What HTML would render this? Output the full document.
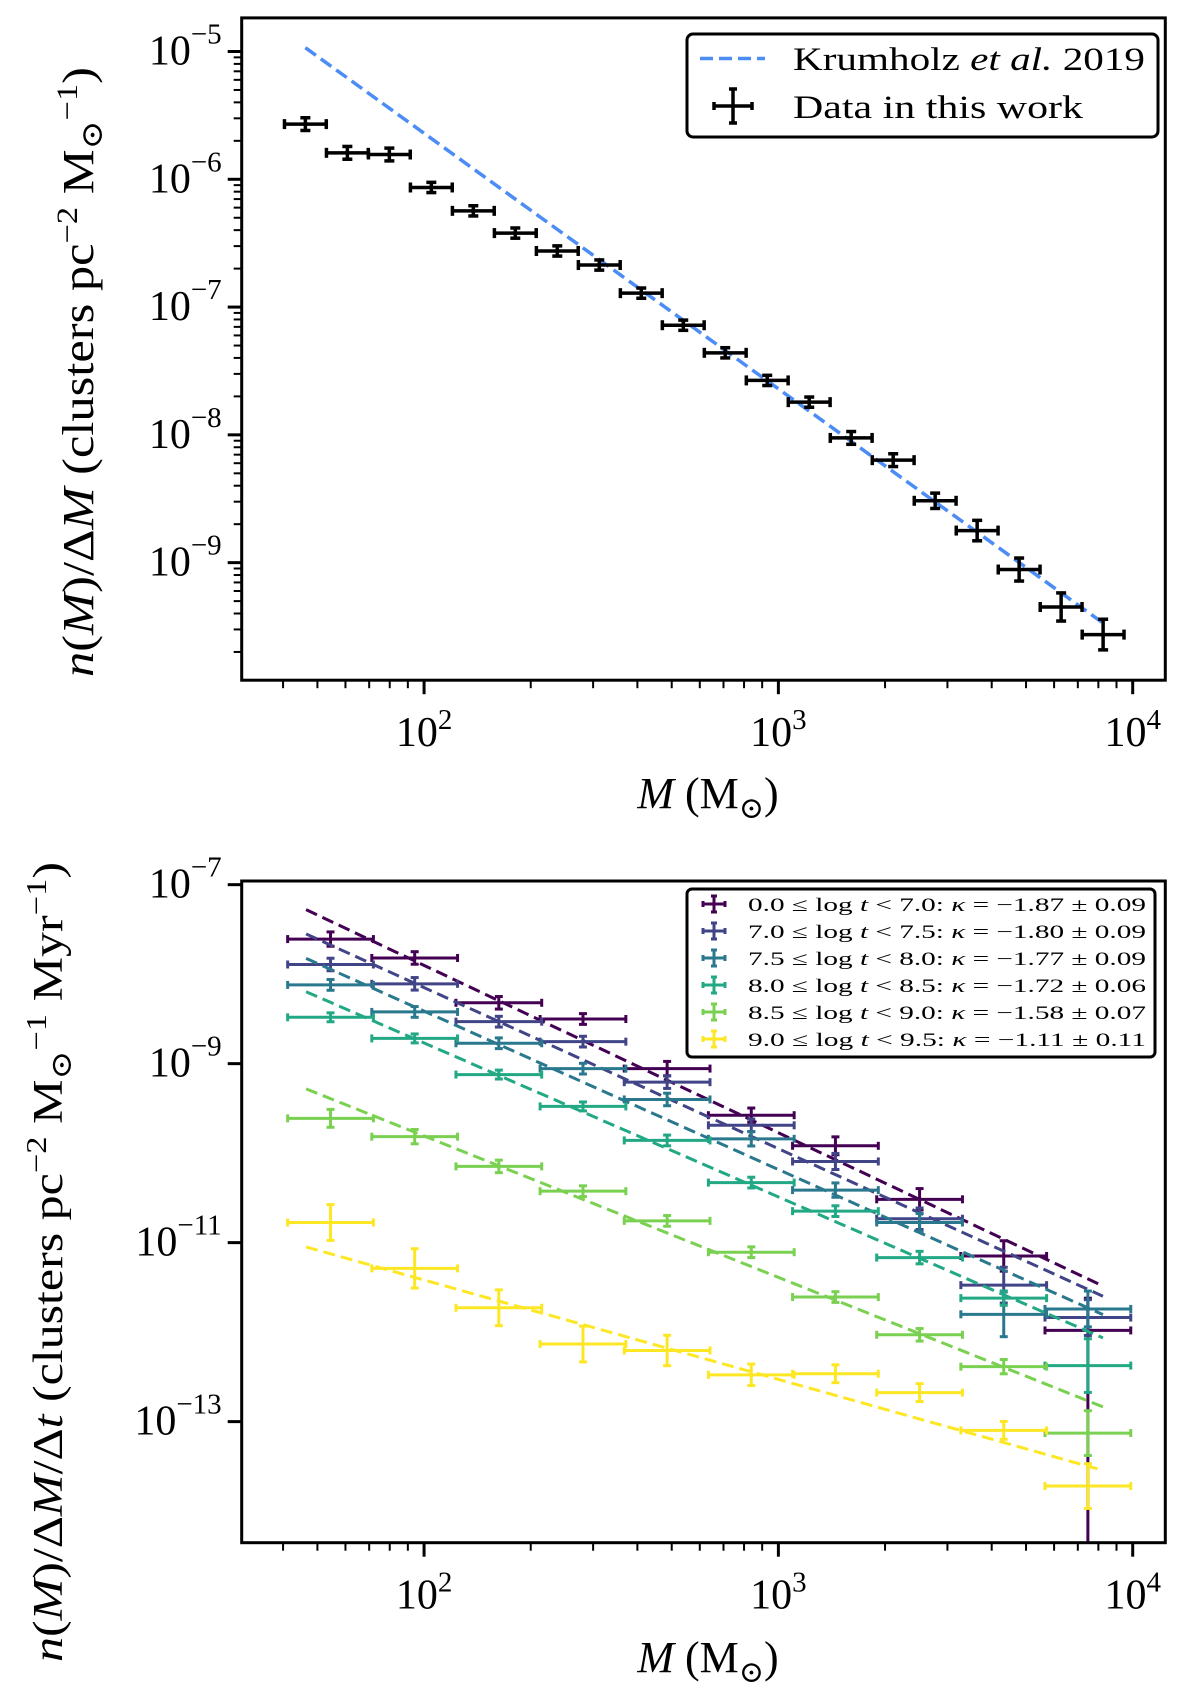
<!DOCTYPE html>
<html><head><meta charset="utf-8"><style>
html,body{margin:0;padding:0;background:#fff;}
svg{display:block;font-family:"Liberation Serif","DejaVu Serif",serif;}
</style></head><body>
<svg id="fig" width="1200" height="1696" viewBox="0 0 1200 1696" xmlns="http://www.w3.org/2000/svg"></svg>
<script>
// ---- top panel data (log10 values) ----
const topLogM = [1.665,1.7835,1.902,2.0205,2.139,2.2575,2.376,2.4945,2.613,2.7315,2.85,2.9685,3.087,3.2055,3.324,3.4425,3.561,3.6795,3.798,3.9165];
const topLogN = [-5.568,-5.793,-5.806,-6.064,-6.247,-6.421,-6.561,-6.671,-6.891,-7.142,-7.358,-7.574,-7.744,-8.024,-8.198,-8.516,-8.749,-9.054,-9.347,-9.563];
const topErr = [0.05,0.05,0.05,0.04,0.04,0.04,0.04,0.04,0.04,0.04,0.04,0.04,0.04,0.05,0.05,0.06,0.08,0.09,0.11,0.12];
const topHalfBin = 0.059;
const krumSlope = -2.0;
const krumAt2 = -5.640;
const krumRange = [1.665,3.916];
// ---- bottom panel data ----
const botLogM = [1.736,1.9735,2.211,2.4485,2.686,2.9235,3.161,3.3985,3.636,3.8735];
const botHalfBin = 0.121;
const seriesLabels = ["0.0","7.0","7.5","8.0","8.5","9.0"];
const seriesLabelsHi = ["7.0","7.5","8.0","8.5","9.0","9.5"];
const kappa = [-1.87,-1.80,-1.77,-1.72,-1.58,-1.11];
const kappaErr = ["0.09","0.09","0.09","0.06","0.07","0.11"];
const fitAt2 = [-7.902,-8.150,-8.413,-8.769,-9.808,-11.418];
const fitRange = [1.667,3.916];
const s0 = [-7.608,-7.819,-8.320,-8.501,-9.055,-9.576,-9.918,-10.516,-11.149,-11.981];
const s1 = [-7.892,-8.108,-8.531,-8.754,-9.207,-9.689,-10.093,-10.733,-11.475,-11.837];
const s2 = [-8.120,-8.422,-8.772,-9.056,-9.400,-9.840,-10.413,-10.775,-11.801,-11.741];
const s3 = [-8.482,-8.718,-9.122,-9.478,-9.858,-10.329,-10.648,-11.167,-11.620,-12.374];
const s4 = [-9.611,-9.816,-10.148,-10.425,-10.757,-11.107,-11.608,-12.030,-12.386,-13.128];
const s5 = [-10.775,-11.288,-11.728,-12.133,-12.205,-12.477,-12.465,-12.676,-13.098,-13.720];
const e0hi = [0.08,0.07,0.07,0.06,0.08,0.08,0.10,0.12,0.17,0.36];
const e0lo = [0.08,0.07,0.07,0.06,0.08,0.08,0.10,0.12,0.17,5.0];
const e1 = [0.07,0.07,0.06,0.06,0.07,0.07,0.09,0.12,0.20,0.20];
const e2 = [0.06,0.06,0.06,0.06,0.07,0.08,0.08,0.10,0.25,0.20];
const e3 = [0.05,0.05,0.05,0.05,0.06,0.06,0.06,0.07,0.08,0.30];
const e4 = [0.10,0.08,0.07,0.06,0.06,0.06,0.06,0.07,0.08,0.25];
const e5 = [0.20,0.22,0.20,0.20,0.17,0.12,0.10,0.10,0.10,0.25];

const colors = ["#440154","#414487","#2a788e","#22a884","#7ad151","#fde725"];
const seriesVals = [s0,s1,s2,s3,s4,s5];
const seriesHi = [e0hi,e1,e2,e3,e4,e5];
const seriesLo = [e0lo,e1,e2,e3,e4,e5];

const NS="http://www.w3.org/2000/svg";
const svg=document.getElementById('fig');
function mk(tag,attrs,parent){const e=document.createElementNS(NS,tag);for(const k in attrs)e.setAttribute(k,attrs[k]);(parent||svg).appendChild(e);return e;}

const X0=241.7,X1=1165.3,xl0=1.4853,xl1=4.092;
function xs(l){return X0+(l-xl0)/(xl1-xl0)*(X1-X0);}

function panel(name,Y0,Y1,yl0,yl1,yTicks,minorY){
  const g=mk('g',{});
  
  
  const ys=l=>Y1-(l-yl0)/(yl1-yl0)*(Y1-Y0);
  const clip=mk('clipPath',{id:name+'-clip'},g);
  mk('rect',{x:X0,y:Y0,width:X1-X0,height:Y1-Y0},clip);
  const plot=mk('g',{'clip-path':'url(#'+name+'-clip)'},g);
  
  
  for(let d=1;d<=4;d++){for(let m=1;m<=9;m++){const l=d+Math.log10(m);if(l<xl0||l>xl1)continue;
    const x=xs(l);const major=m===1;
    const t=mk('line',{x1:x,x2:x,y1:Y1,y2:Y1+(major?14:8),stroke:'#000','stroke-width':major?3:2},g);
    
    
    if(major){const tx=mk('text',{x:x,y:Y1+66,'font-size':42,'text-anchor':'middle'},g);
      
      
      tx.innerHTML='10<tspan dy="-17" font-size="29">'+d+'</tspan>';}
  }}
  for(const d of yTicks){const y=ys(d);
    const t=mk('line',{x1:X0-14,x2:X0,y1:y,y2:y,stroke:'#000','stroke-width':3},g);
    
    
    const tx=mk('text',{x:X0-20,y:y+13,'font-size':42,'text-anchor':'end'},g);
    
    
    tx.innerHTML='10<tspan dy="-21" font-size="29">\u2212'+(-d)+'</tspan>';
  }
  if(minorY){for(let d=Math.floor(yl0);d<yl1;d++){for(let m=2;m<=9;m++){const l=d+Math.log10(m);if(l<yl0||l>yl1)continue;const y=ys(l);
    const t=mk('line',{x1:X0-8,x2:X0,y1:y,y2:y,stroke:'#000','stroke-width':2},g);
    
    }}}
  return {g,plot,ys,Y0,Y1};
}
function frame(p,name){const r=mk('rect',{x:X0,y:p.Y0,width:X1-X0,height:p.Y1-p.Y0,fill:'none',stroke:'#000','stroke-width':3},p.g);
  
  }
function errbar(par,x,y,xlo,xhi,ylo,yhi,color,w,cap){
  const g=mk('g',{stroke:color,'stroke-width':w,fill:'none'},par);
  
  
  mk('line',{x1:xlo,x2:xhi,y1:y,y2:y},g);
  mk('line',{x1:x,x2:x,y1:ylo,y2:yhi},g);
  mk('line',{x1:xlo,x2:xlo,y1:y-cap,y2:y+cap},g);
  mk('line',{x1:xhi,x2:xhi,y1:y-cap,y2:y+cap},g);
  mk('line',{x1:x-cap,x2:x+cap,y1:ylo,y2:ylo},g);
  mk('line',{x1:x-cap,x2:x+cap,y1:yhi,y2:yhi},g);
  return g;
}

// ===== TOP PANEL =====
const T=panel('top-panel',17.9,680.2,-9.92,-4.737,[-5,-6,-7,-8,-9],true);
const kl=mk('line',{x1:xs(krumRange[0]),y1:T.ys(krumAt2+krumSlope*(krumRange[0]-2)),x2:xs(krumRange[1]),y2:T.ys(krumAt2+krumSlope*(krumRange[1]-2)),stroke:'#4c8cf5','stroke-width':3.5,'stroke-dasharray':'13,6'},T.plot);


for(let i=0;i<topLogM.length;i++){
  const g=errbar(T.plot,xs(topLogM[i]),T.ys(topLogN[i]),xs(topLogM[i]-topHalfBin),xs(topLogM[i]+topHalfBin),T.ys(topLogN[i]-topErr[i]),T.ys(topLogN[i]+topErr[i]),'#000',3.5,5);
  
}
frame(T,'top-axes-frame');
{const lg=mk('g',{},T.g);


mk('rect',{x:687,y:34,width:471,height:103,rx:6,fill:'#fff',stroke:'#000','stroke-width':3},lg);
mk('line',{x1:700,x2:765,y1:58.5,y2:58.5,stroke:'#4c8cf5','stroke-width':3.5,'stroke-dasharray':'13,6'},lg);
const t1=mk('text',{x:793,y:70,'font-size':33,textLength:352,lengthAdjust:'spacingAndGlyphs'},lg);t1.innerHTML='Krumholz <tspan font-style="italic">et al.</tspan> 2019';


errbar(lg,733,106,714,752,89,123,'#000',3.5,4);
const t2=mk('text',{x:793,y:118,'font-size':33,textLength:290,lengthAdjust:'spacingAndGlyphs'},lg);t2.textContent='Data in this work';

}
{const yl=mk('text',{x:0,y:0,'font-size':44,'text-anchor':'middle',textLength:610,lengthAdjust:'spacingAndGlyphs',transform:'translate(93,372) rotate(-90)'},T.g);


yl.innerHTML='<tspan font-style="italic">n</tspan>(<tspan font-style="italic">M</tspan>)/Δ<tspan font-style="italic">M</tspan> (clusters pc<tspan dy="-16" font-size="30">−2</tspan><tspan dy="16"> M</tspan><tspan dy="9" font-size="30">⊙</tspan><tspan dy="-25" font-size="30">−1</tspan><tspan dy="16">)</tspan>';
const xl=mk('text',{x:708,y:808,'font-size':44,'text-anchor':'middle'},T.g);


xl.innerHTML='<tspan font-style="italic">M</tspan> (M<tspan dy="10" font-size="30">⊙</tspan><tspan dy="-10">)</tspan>';}

// ===== BOTTOM PANEL =====
const B=panel('bottom-panel',881,1542.7,-14.353,-6.959,[-7,-9,-11,-13],false);
for(let s=0;s<6;s++){
  const sg=mk('g',{},B.plot);
  
  
  const fl=mk('line',{x1:xs(fitRange[0]),y1:B.ys(fitAt2[s]+kappa[s]*(fitRange[0]-2)),x2:xs(fitRange[1]),y2:B.ys(fitAt2[s]+kappa[s]*(fitRange[1]-2)),stroke:colors[s],'stroke-width':3,'stroke-dasharray':'12,6'},sg);
  
  
  const v=seriesVals[s];
  for(let i=0;i<botLogM.length;i++){
    const g=errbar(sg,xs(botLogM[i]),B.ys(v[i]),xs(botLogM[i]-botHalfBin),xs(botLogM[i]+botHalfBin),B.ys(v[i]-seriesLo[s][i]),B.ys(v[i]+seriesHi[s][i]),colors[s],3,4);
    
  }
}
frame(B,'bottom-axes-frame');
{const lg=mk('g',{},B.g);


mk('rect',{x:687,y:889,width:468,height:168,rx:5,fill:'#fff',stroke:'#000','stroke-width':3},lg);
for(let s=0;s<6;s++){const y=904+27*s;
  errbar(lg,714,y,703,725,y-8,y+8,colors[s],3,3);
  const t=mk('text',{x:748,y:y+7,'font-size':19,textLength:398,lengthAdjust:'spacingAndGlyphs'},lg);
  
  
  t.innerHTML=seriesLabels[s]+' ≤ log <tspan font-style="italic">t</tspan> &lt; '+seriesLabelsHi[s]+':  <tspan font-style="italic">κ</tspan> = −'+(-kappa[s]).toFixed(2)+' ± '+kappaErr[s];
}}
{const yl=mk('text',{x:0,y:0,'font-size':42,'text-anchor':'middle',textLength:800,lengthAdjust:'spacingAndGlyphs',transform:'translate(62,1262) rotate(-90)'},B.g);


yl.innerHTML='<tspan font-style="italic">n</tspan>(<tspan font-style="italic">M</tspan>)/Δ<tspan font-style="italic">M</tspan>/Δ<tspan font-style="italic">t</tspan> (clusters pc<tspan dy="-16" font-size="29">−2</tspan><tspan dy="16"> M</tspan><tspan dy="9" font-size="29">⊙</tspan><tspan dy="-25" font-size="29">−1</tspan><tspan dy="16"> Myr</tspan><tspan dy="-16" font-size="29">−1</tspan><tspan dy="16">)</tspan>';
const xl=mk('text',{x:708,y:1672,'font-size':44,'text-anchor':'middle'},B.g);


xl.innerHTML='<tspan font-style="italic">M</tspan> (M<tspan dy="10" font-size="30">⊙</tspan><tspan dy="-10">)</tspan>';}
</script>
</body></html>
